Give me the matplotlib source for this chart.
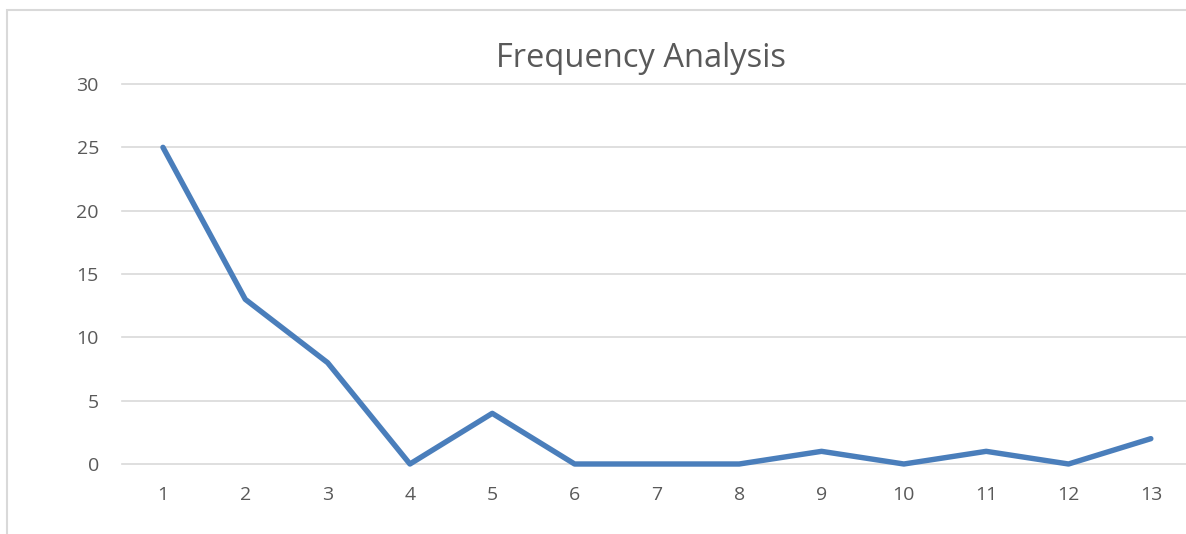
import matplotlib.pyplot as plt
from matplotlib.patches import Rectangle

# Frequency counts per bin
bins = list(range(1, 14))
counts = [25, 13, 8, 0, 4, 0, 0, 0, 1, 0, 1, 0, 2]
yticks = [0, 5, 10, 15, 20, 25, 30]

plt.rcParams['font.family'] = ['Open Sans', 'DejaVu Sans']

W, H = 1186, 534
fig = plt.figure(figsize=(W / 100, H / 100), dpi=100)

# chart border, runs off the right and bottom edges
fig.patches.append(Rectangle((6.5 / W, -0.1), 1.2, (H - 9.5) / H + 0.1,
                             transform=fig.transFigure, fill=False,
                             edgecolor='#d9d9d9', linewidth=1.5))

left, right = 121.8, 1192.0
top, bottom = 84.0, 464.0
ax = fig.add_axes([left / W, (H - bottom) / H, (right - left) / W, (bottom - top) / H])

line, = ax.plot(bins, counts, color='#4a7ebb', linewidth=3.9,
                solid_joinstyle='round', solid_capstyle='round', zorder=3)
line.set_clip_on(False)

ax.set_xlim(0.5, 13.5)
ax.set_ylim(0, 30)
ax.set_xticks(bins)
ax.set_yticks(yticks)
ax.yaxis.grid(True, color='#d9d9d9', linewidth=1.2)
for g in ax.get_ygridlines():
    g.set_clip_on(False)
ax.set_axisbelow(True)
for s in ax.spines.values():
    s.set_visible(False)
ax.tick_params(length=0, labelsize=14, labelcolor='#595959')
ax.tick_params(axis='y', pad=16.5)
ax.tick_params(axis='x', pad=16)

fig.text(641 / W, (H - 67) / H, 'Frequency Analysis', ha='center', va='baseline',
         fontsize=23.5, color='#595959')

fig.savefig('out.png', dpi=100)
